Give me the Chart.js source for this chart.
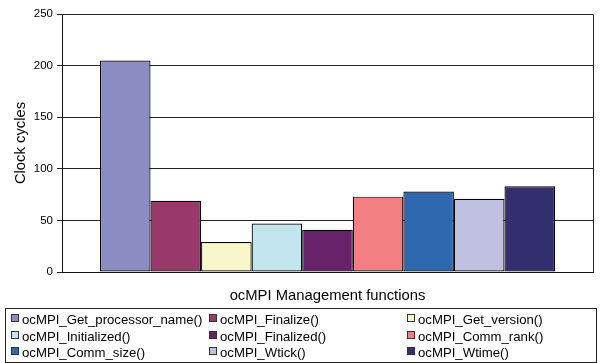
<!DOCTYPE html>
<html>
<head>
<meta charset="utf-8">
<script src="https://cdn.jsdelivr.net/npm/chart.js@4/dist/chart.umd.min.js"></script>
<style>
  html, body { margin: 0; padding: 0; background: #fff; }
  #wrap { position: relative; width: 603px; height: 363px; }
  canvas { display: block; }
</style>
</head>
<body>
<div id="wrap"><canvas id="c" width="603" height="363"></canvas></div>
<script>
// Measured clock cycles for each ocMPI management call
const categories = ['ocMPI Management functions'];
const functionNames = [
  'ocMPI_Get_processor_name()', 'ocMPI_Finalize()', 'ocMPI_Get_version()',
  'ocMPI_Initialized()', 'ocMPI_Finalized()', 'ocMPI_Comm_rank()',
  'ocMPI_Comm_size()', 'ocMPI_Wtick()', 'ocMPI_Wtime()'
];
const cycles = [205, 69, 29, 47, 41, 73, 78, 71, 83];
const yTicks = [0, 50, 100, 150, 200, 250];
const barColors = [
  '#8a8cc2', '#973a6b', '#f9f7c9', '#c3e6ee', '#67226a',
  '#f28083', '#2e69b0', '#c0c0e0', '#332f6f'
];

const FONT = '"Liberation Sans", Arial, sans-serif';

const datasets = functionNames.map((name, i) => ({
  label: name,
  data: [cycles[i]],
  backgroundColor: barColors[i],
  borderColor: '#000',
  borderWidth: 1.2,
  borderSkipped: false,
  barPercentage: 1,
  categoryPercentage: 0.857
}));

// Plot frame on the right/top, plus a boxed three-column legend underneath
const framePlugin = {
  id: 'frame',
  afterDatasetsDraw(chart) {
    const { ctx, chartArea: a } = chart;
    ctx.save();
    ctx.strokeStyle = '#222';
    ctx.lineWidth = 1;
    ctx.beginPath();
    ctx.moveTo(a.left, a.top + 0.5);
    ctx.lineTo(a.right + 0.5, a.top + 0.5);
    ctx.lineTo(a.right + 0.5, a.bottom);
    ctx.stroke();
    ctx.restore();
  },
  afterDraw(chart) {
    const { ctx } = chart;
    const box = { x: 5.5, y: 308.5, w: 591, h: 54 };
    const colX = [11, 209, 407];
    const rowY = [319, 336, 352];
    ctx.save();
    ctx.strokeStyle = '#222';
    ctx.lineWidth = 1;
    ctx.strokeRect(box.x, box.y, box.w, box.h);
    ctx.font = '13.2px ' + FONT;
    ctx.textBaseline = 'middle';
    chart.data.datasets.forEach((ds, i) => {
      const x = colX[i % 3];
      const y = rowY[Math.floor(i / 3)];
      ctx.fillStyle = ds.backgroundColor;
      ctx.fillRect(x + 0.5, y - 4.5, 7, 7);
      ctx.strokeStyle = '#333';
      ctx.strokeRect(x + 0.5, y - 4.5, 7, 7);
      ctx.fillStyle = '#000';
      ctx.fillText(ds.label, x + 11, y + 1);
    });
    ctx.restore();
  }
};

new Chart(document.getElementById('c'), {
  type: 'bar',
  data: { labels: categories, datasets },
  options: {
    responsive: false,
    animation: false,
    layout: { padding: { top: 14, right: 10, bottom: 58, left: 0 } },
    plugins: { legend: { display: false }, tooltip: { enabled: false } },
    scales: {
      x: {
        ticks: { display: false },
        grid: { display: false },
        border: { color: '#111', width: 1 },
        title: {
          display: true,
          text: 'ocMPI Management functions',
          color: '#000',
          font: { family: FONT, size: 14.8 },
          padding: { top: 14, bottom: 0 }
        },
        afterFit(scale) { scale.height = 33; }
      },
      y: {
        min: 0,
        max: 250,
        afterBuildTicks(scale) { scale.ticks = yTicks.map(v => ({ value: v })); },
        ticks: {
          color: '#000',
          font: { family: FONT, size: 11.5 },
          padding: 4
        },
        grid: { color: '#222', tickLength: 5, drawTicks: true },
        border: { color: '#111', width: 1 },
        title: {
          display: true,
          text: 'Clock cycles',
          color: '#000',
          font: { family: FONT, size: 14.8 },
          padding: { top: 12, bottom: 8 }
        },
        afterFit(scale) { scale.width = 62; }
      }
    }
  },
  plugins: [framePlugin]
});
</script>
</body>
</html>
